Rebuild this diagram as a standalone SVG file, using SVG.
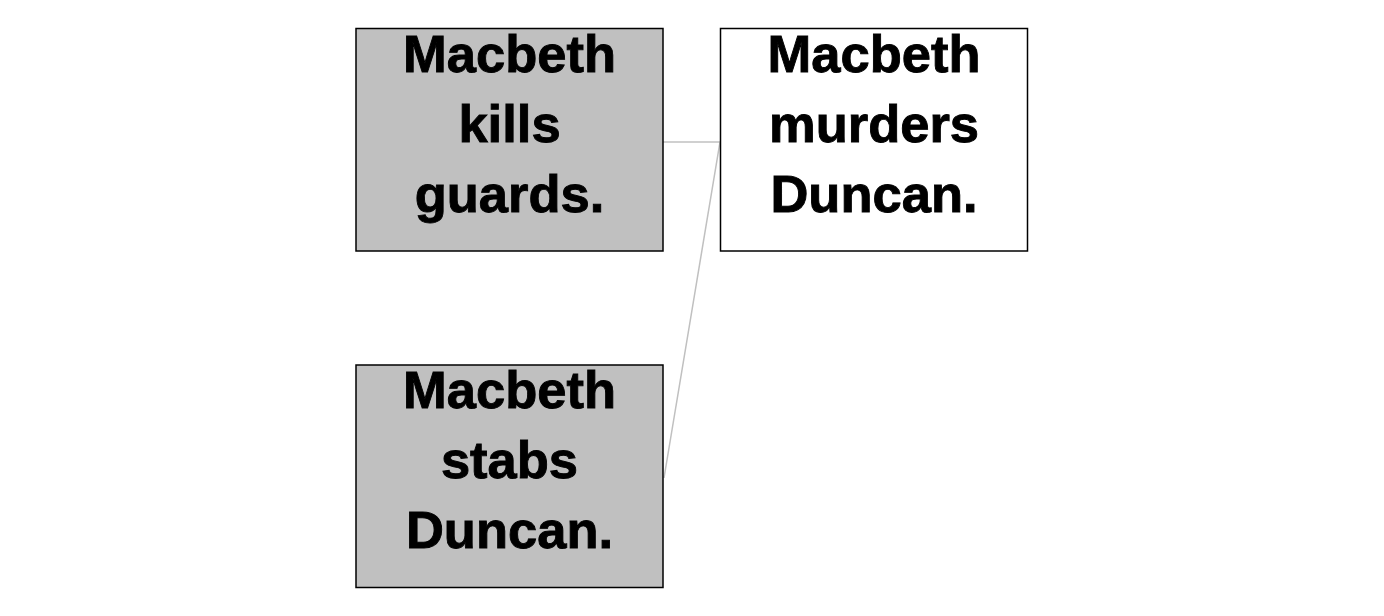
<svg xmlns="http://www.w3.org/2000/svg" width="1384" height="616" viewBox="0 0 1384 616">
<style>
.box{stroke:#000;stroke-width:1.5}
.g{fill:#c0c0c0}
.w{fill:#fff}
.t{font-family:"Liberation Sans",Arial,sans-serif;font-weight:bold;font-size:52.5px;fill:#000;stroke:#000;stroke-width:0.9;text-anchor:middle}
.c{stroke:#c0c0c0;stroke-width:1.5;fill:none}
</style>
<rect width="1384" height="616" fill="#fff"/>
<g id="connectors">
<polyline class="c" points="663,142 720,142"/>
<polyline class="c" points="664,478 720,142"/>
</g>
<g id="node-kills">
<rect class="box g" x="356" y="28.5" width="307" height="222.5"/>
<text class="t" x="509.5" y="71.5">Macbeth</text>
<text class="t" x="509.5" y="141.5">kills</text>
<text class="t" x="509.5" y="211.5">guards.</text>
</g>
<g id="node-murders">
<rect class="box w" x="720.5" y="28.5" width="307" height="222.5"/>
<text class="t" x="874" y="71.5">Macbeth</text>
<text class="t" x="874" y="141.5">murders</text>
<text class="t" x="874" y="211.5">Duncan.</text>
</g>
<g id="node-stabs">
<rect class="box g" x="356" y="365" width="307" height="222.5"/>
<text class="t" x="509.5" y="408">Macbeth</text>
<text class="t" x="509.5" y="478">stabs</text>
<text class="t" x="509.5" y="548">Duncan.</text>
</g>
</svg>
